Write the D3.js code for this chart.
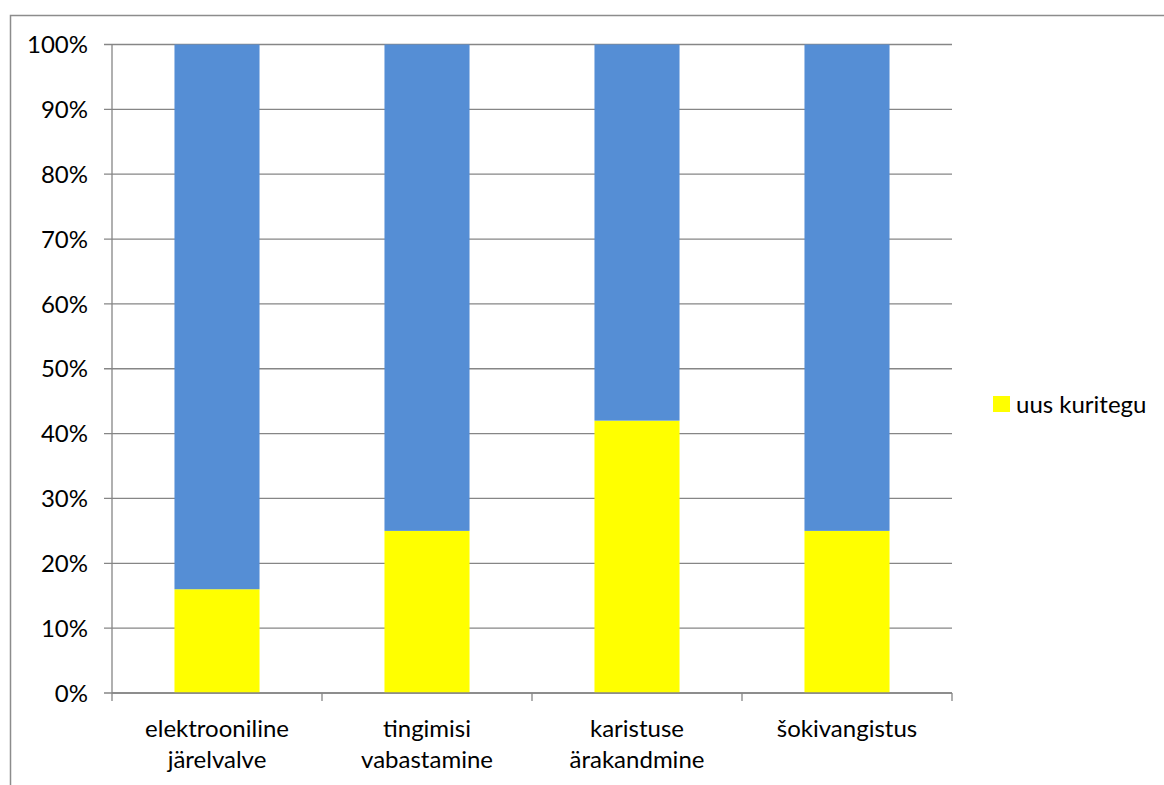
<!DOCTYPE html>
<html>
<head>
<meta charset="utf-8">
<script src="https://cdn.jsdelivr.net/npm/d3@7"></script>
<style>
  html, body { margin: 0; padding: 0; background: #fff; }
  svg text { font-family: Lato, "Open Sans", sans-serif; fill: #000; }
</style>
</head>
<body>
<div id="app"></div>
<script>
// data
const categories = [
    ["elektrooniline", "järelvalve"],
    ["tingimisi", "vabastamine"],
    ["karistuse", "ärakandmine"],
    ["šokivangistus"]
];
const newCrime = [16, 25, 42, 25];          // uus kuritegu
const rest = newCrime.map((v) => 100 - v);  // remaining share (no legend entry)
const yTicks = [0, 10, 20, 30, 40, 50, 60, 70, 80, 90, 100];

const W = 1164, H = 785;
const plot = { left: 112, right: 952, top: 44.5, bottom: 693 };
const fontSize = "24px";

const svg = d3.select("#app").append("svg")
    .attr("width", W).attr("height", H);

// outer chart frame
svg.append("rect")
    .attr("x", 10.5).attr("y", 15.5)
    .attr("width", W + 20).attr("height", H + 20)
    .attr("fill", "none").attr("stroke", "#8c8c8c").attr("stroke-width", 1.5);

const x = d3.scaleBand()
    .domain(d3.range(categories.length))
    .range([plot.left, plot.right])
    .paddingInner(0.595).paddingOuter(0.2975);

const y = d3.scaleLinear().domain([0, 100]).range([plot.bottom, plot.top]);

// gridlines
svg.append("g")
    .selectAll("line")
    .data(yTicks)
    .join("line")
    .attr("x1", plot.left - 8).attr("x2", plot.right)
    .attr("y1", (d) => y(d)).attr("y2", (d) => y(d))
    .attr("stroke", "#868686").attr("stroke-width", 1.3);

// y tick labels
svg.append("g")
    .selectAll("text")
    .data(yTicks)
    .join("text")
    .attr("x", 88).attr("y", (d) => y(d))
    .attr("dy", "0.36em")
    .attr("text-anchor", "end")
    .style("font-size", fontSize)
    .text((d) => d + "%");

// stacked bars
const stack = d3.stack().keys(["newCrime", "rest"]);
const rows = categories.map((c, i) => ({ newCrime: newCrime[i], rest: rest[i] }));
const colors = { newCrime: "#ffff00", rest: "#558ed5" };

svg.append("g")
    .selectAll("g")
    .data(stack(rows))
    .join("g")
    .attr("fill", (s) => colors[s.key])
    .selectAll("rect")
    .data((s) => s)
    .join("rect")
    .attr("x", (d, i) => x(i))
    .attr("width", x.bandwidth())
    .attr("y", (d) => y(d[1]))
    .attr("height", (d) => y(d[0]) - y(d[1]));

// axes lines
svg.append("line")
    .attr("x1", plot.left).attr("x2", plot.left)
    .attr("y1", plot.top).attr("y2", plot.bottom)
    .attr("stroke", "#868686").attr("stroke-width", 1.3);
svg.append("line")
    .attr("x1", plot.left).attr("x2", plot.right)
    .attr("y1", plot.bottom).attr("y2", plot.bottom)
    .attr("stroke", "#868686").attr("stroke-width", 1.3);

// category boundary ticks
const step = x.step();
svg.append("g")
    .selectAll("line")
    .data(d3.range(categories.length + 1))
    .join("line")
    .attr("x1", (i) => plot.left + i * step).attr("x2", (i) => plot.left + i * step)
    .attr("y1", plot.bottom).attr("y2", plot.bottom + 8)
    .attr("stroke", "#868686").attr("stroke-width", 1.3);

// category labels
svg.append("g")
    .selectAll("text")
    .data(categories)
    .join("text")
    .attr("x", (d, i) => x(i) + x.bandwidth() / 2)
    .attr("y", 737)
    .attr("text-anchor", "middle")
    .style("font-size", fontSize)
    .selectAll("tspan")
    .data((d) => d)
    .join("tspan")
    .attr("x", function () { return this.parentNode.getAttribute("x"); })
    .attr("dy", (d, i) => (i === 0 ? 0 : 31))
    .text((d) => d);

// legend (only the yellow series is shown)
const legend = svg.append("g").attr("transform", "translate(993,396)");
legend.append("rect").attr("width", 17).attr("height", 16).attr("fill", colors.newCrime);
legend.append("text")
    .attr("x", 23).attr("y", 8).attr("dy", "0.36em")
    .style("font-size", fontSize)
    .text("uus kuritegu");
</script>
</body>
</html>
